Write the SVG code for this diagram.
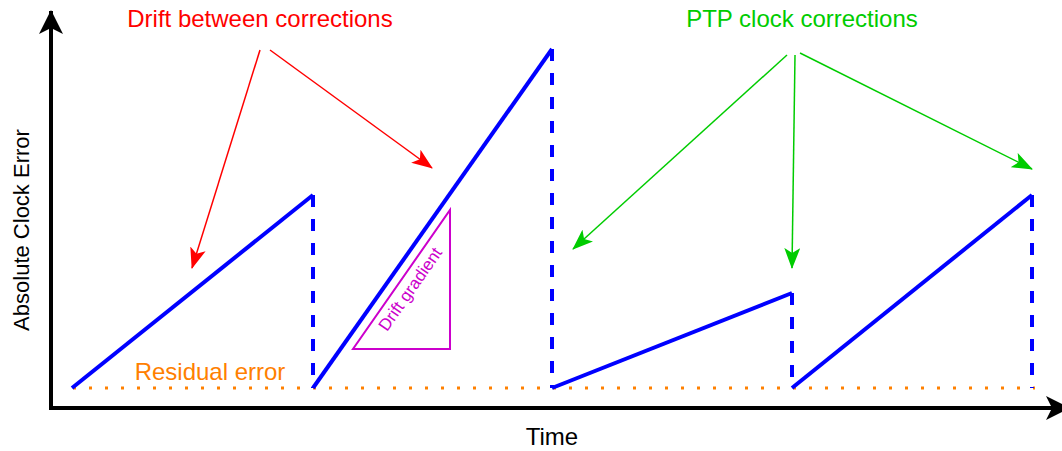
<svg xmlns="http://www.w3.org/2000/svg" width="1062" height="451" viewBox="0 0 1062 451">
<style>
text{font-family:"Liberation Sans",Arial,sans-serif}
.lbl{font-size:24px}
.ramp{stroke:#0000FF;stroke-width:4;fill:none}
.dash{stroke:#0000FF;stroke-width:4;fill:none;stroke-dasharray:12 12}
.red{stroke:#FF0000;stroke-width:1.5;fill:none;marker-end:url(#ar)}
.grn{stroke:#00CC00;stroke-width:1.5;fill:none;marker-end:url(#ag)}
.axis{stroke:#000;stroke-width:4;fill:none;marker-end:url(#ak)}
</style>
<defs>
<marker id="ar" markerUnits="userSpaceOnUse" viewBox="0 0 21 16" refX="20" refY="8" markerWidth="21" markerHeight="16" orient="auto"><path d="M0,0 L21,8 L0,16 L5,8 Z" fill="#FF0000"/></marker>
<marker id="ag" markerUnits="userSpaceOnUse" viewBox="0 0 21 16" refX="20" refY="8" markerWidth="21" markerHeight="16" orient="auto"><path d="M0,0 L21,8 L0,16 L5,8 Z" fill="#00CC00"/></marker>
<marker id="ak" markerUnits="userSpaceOnUse" viewBox="0 0 24 24" refX="23" refY="12" markerWidth="24" markerHeight="24" orient="auto"><path d="M0,0 L24,12 L0,24 L6,12 Z" fill="#000"/></marker>
</defs>
<rect width="1062" height="451" fill="#fff"/>
<g id="axes">
<line class="axis" x1="51" y1="410" x2="51" y2="11"/>
<line class="axis" x1="49" y1="408" x2="1069" y2="408"/>
</g>
<g id="residual">
<line x1="73" y1="388" x2="1035" y2="388" stroke="#FF8000" stroke-width="3" stroke-dasharray="3 13"/>
<text class="lbl" x="210" y="380" fill="#FF8000" text-anchor="middle">Residual error</text>
</g>
<g id="drift">
<polyline class="ramp" points="72,388 313,195"/>
<line class="dash" x1="313" y1="195" x2="313" y2="388"/>
<polyline class="ramp" points="313,388 552,49"/>
<line class="dash" x1="552" y1="49" x2="552" y2="388"/>
<polyline class="ramp" points="552,388 792,293"/>
<line class="dash" x1="792" y1="293" x2="792" y2="388"/>
<polyline class="ramp" points="792,388 1032,195"/>
<line class="dash" x1="1032" y1="195" x2="1032" y2="388"/>
</g>
<g id="gradient">
<polygon points="353,349 450,349 450,210" fill="none" stroke="#CC00CC" stroke-width="2"/>
<text x="410" y="295" fill="#CC00CC" font-size="17" text-anchor="middle" transform="rotate(-55 410 289)">Drift gradient</text>
</g>
<g id="connectors">
<line class="red" x1="260" y1="50" x2="192" y2="268"/>
<line class="red" x1="270" y1="50" x2="432" y2="168"/>
<line class="grn" x1="787" y1="55" x2="573" y2="249"/>
<line class="grn" x1="795" y1="55" x2="792" y2="268"/>
<line class="grn" x1="800" y1="53" x2="1032" y2="169"/>
</g>
<g id="title-drift"><text class="lbl" x="260" y="27" fill="#FF0000" text-anchor="middle">Drift between corrections</text></g>
<g id="title-ptp"><text class="lbl" x="802" y="27" fill="#00CC00" text-anchor="middle">PTP clock corrections</text></g>
<g id="xlabel"><text class="lbl" x="552" y="445" fill="#000" text-anchor="middle">Time</text></g>
<g id="ylabel"><text x="0" y="0" fill="#000" font-size="22" text-anchor="middle" transform="translate(29 230) rotate(-90)">Absolute Clock Error</text></g>
</svg>
